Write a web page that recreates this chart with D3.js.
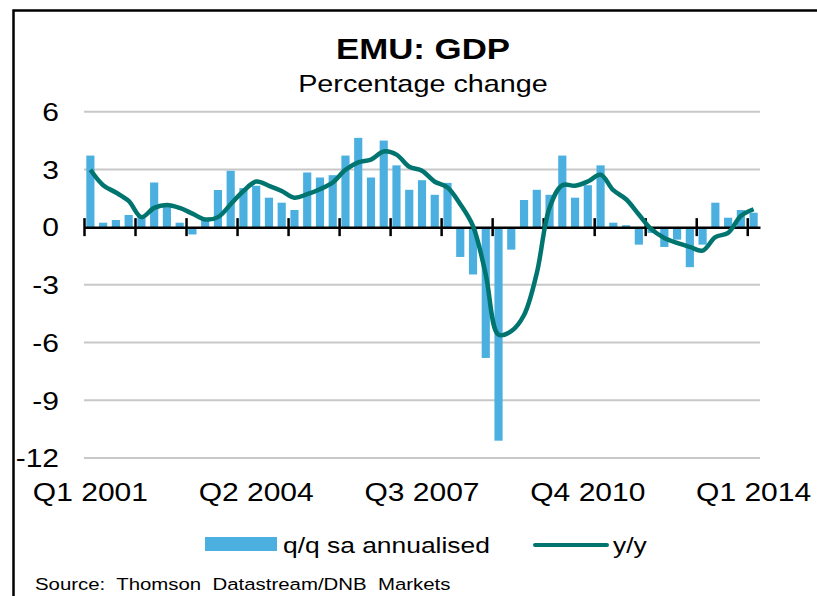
<!DOCTYPE html>
<html>
<head>
<meta charset="utf-8">
<script src="https://cdn.jsdelivr.net/npm/d3@7"></script>
<style>
  body { margin: 0; background: #fff; }
  svg text { font-family: "Liberation Sans", Arial, sans-serif; fill: #000; }
</style>
</head>
<body>
<div id="chart"></div>
<script>
// quarters Q1 2001 .. Q1 2014
var quarters = [];
for (var yr = 2001; yr <= 2014; yr++) {
  for (var q = 1; q <= 4; q++) {
    if (yr === 2014 && q > 1) break;
    quarters.push("Q" + q + " " + yr);
  }
}

// q/q sa annualised (bars)
var qoq = [3.72, 0.23, 0.37, 0.63, 0.6, 2.32, 1.1, 0.23, -0.38, 0.4,
  1.93, 2.93, 2.03, 2.15, 1.53, 1.27, 0.89, 2.84, 2.58, 2.7,
  3.72, 4.64, 2.58, 4.5, 3.21, 1.94, 2.44, 1.68, 2.3, -1.55,
  -2.46, -6.8, -11.1, -1.17, 1.41, 1.94, 1.68, 3.72, 1.53, 2.18,
  3.21, 0.23, 0.1, -0.91, -0.3, -1.03, -0.65, -2.08, -0.91, 1.27,
  0.49, 0.89, 0.75];

// y/y (line)
var yoy = [2.98, 2.18, 1.8, 1.36, 0.52, 1.0, 1.15, 1.0, 0.7, 0.4,
  0.52, 1.19, 1.88, 2.37, 2.15, 1.88, 1.53, 1.71, 1.97, 2.32,
  2.98, 3.37, 3.51, 3.93, 3.77, 3.14, 2.93, 2.36, 2.06, 1.19,
  0.05, -2.47, -5.59, -5.41, -4.57, -2.39, 1.01, 2.18, 2.15, 2.37,
  2.72, 1.92, 1.45, 0.66, -0.12, -0.56, -0.82, -1.03, -1.22, -0.52,
  -0.3, 0.58, 0.93];

var yTicks = [6, 3, 0, -3, -6, -9, -12];
var xLabels = ["Q1 2001", "Q2 2004", "Q3 2007", "Q4 2010", "Q1 2014"];

var barColor = "#4bb0df";
var lineColor = "#00756f";
var stretch = 1.2; // text in the source is drawn slightly wide

var svgWidth = 817, svgHeight = 596;
var plot = { left: 84, right: 760, top: 111.7, bottom: 458 };

var svg = d3.select("#chart").append("svg")
  .attr("width", svgWidth)
  .attr("height", svgHeight);

// frame (left and top edges)
svg.append("path")
  .attr("d", "M13.5,596 L13.5,10.5 L817,10.5")
  .attr("fill", "none")
  .attr("stroke", "#000")
  .attr("stroke-width", 2.5);

function wideText(x, y, str, size, anchor, weight) {
  return svg.append("text")
    .attr("transform", `translate(${x},${y}) scale(${stretch},1)`)
    .attr("text-anchor", anchor || "start")
    .style("font-size", size + "px")
    .style("font-weight", weight || "normal")
    .style("white-space", "pre")
    .text(str);
}

wideText(423, 59, "EMU: GDP", 29, "middle", "bold");
wideText(423, 92, "Percentage change", 24, "middle");

var x = d3.scaleBand()
  .domain(quarters)
  .range([plot.left, plot.right])
  .paddingInner(0.36)
  .paddingOuter(0.18);

var xEdge = d3.scaleLinear()
  .domain([0, quarters.length])
  .range([plot.left, plot.right]);

var y = d3.scaleLinear()
  .domain([-12, 6])
  .range([plot.bottom, plot.top]);

// gridlines
svg.append("g")
  .selectAll("line")
  .data(yTicks.filter(d => d !== 0))
  .enter()
  .append("line")
  .attr("x1", plot.left)
  .attr("x2", plot.right)
  .attr("y1", d => y(d))
  .attr("y2", d => y(d))
  .attr("stroke", "#c8c8c8")
  .attr("stroke-width", 2);

// y labels (plain hyphen for negatives)
var leftAxis = d3.axisLeft(y).tickValues(yTicks).tickSize(0).tickFormat(d => String(d));
var yAxisG = svg.append("g")
  .attr("transform", `translate(59,0)`)
  .call(leftAxis);
yAxisG.select(".domain").remove();
yAxisG.selectAll("text")
  .attr("x", 0)
  .attr("dy", "0.35em")
  .attr("transform", `scale(${stretch},1)`)
  .style("font-size", "25px")
  .style("font-family", "Liberation Sans, Arial, sans-serif")
  .attr("text-anchor", "end");

// bars
svg.append("g")
  .selectAll("rect")
  .data(qoq)
  .enter()
  .append("rect")
  .attr("x", (d, i) => x(quarters[i]))
  .attr("width", x.bandwidth())
  .attr("y", d => y(Math.max(0, d)))
  .attr("height", d => Math.abs(y(d) - y(0)))
  .attr("fill", barColor);

// zero axis with tick marks at category boundaries
var bottomAxis = d3.axisBottom(xEdge)
  .tickValues(d3.range(0, quarters.length, 4))
  .tickSize(9)
  .tickSizeOuter(0)
  .tickFormat("");
var xAxisG = svg.append("g")
  .attr("transform", `translate(0,${y(0)})`)
  .call(bottomAxis);
xAxisG.select(".domain").attr("stroke", "#000").attr("stroke-width", 2.5);
xAxisG.selectAll(".tick line")
  .attr("y1", -9)
  .attr("stroke", "#000")
  .attr("stroke-width", 2.5);

// y/y line
var line = d3.line()
  .x((d, i) => x(quarters[i]) + x.bandwidth() / 2)
  .y(d => y(d))
  .curve(d3.curveCatmullRom.alpha(0.5));

svg.append("path")
  .datum(yoy)
  .attr("d", line)
  .attr("fill", "none")
  .attr("stroke", lineColor)
  .attr("stroke-width", 4.5)
  .attr("stroke-linejoin", "round");

// category labels
var labelAxis = d3.axisBottom(x)
  .tickValues(xLabels)
  .tickSize(0);
var labG = svg.append("g")
  .attr("transform", `translate(0,501)`)
  .call(labelAxis);
labG.select(".domain").remove();
labG.selectAll("text")
  .attr("y", 0)
  .attr("dy", 0)
  .attr("transform", `scale(${stretch},1)`)
  .style("font-size", "25px")
  .style("font-family", "Liberation Sans, Arial, sans-serif");

// legend
svg.append("rect")
  .attr("x", 205).attr("y", 537)
  .attr("width", 72).attr("height", 14)
  .attr("fill", barColor);
wideText(283, 553, "q/q sa annualised", 22);
svg.append("line")
  .attr("x1", 535).attr("x2", 607)
  .attr("y1", 545).attr("y2", 545)
  .attr("stroke", lineColor)
  .attr("stroke-width", 4)
  .attr("stroke-linecap", "round");
wideText(613, 553, "y/y", 22);

wideText(35, 590, "Source:  Thomson  Datastream/DNB  Markets", 17);
</script>
</body>
</html>
